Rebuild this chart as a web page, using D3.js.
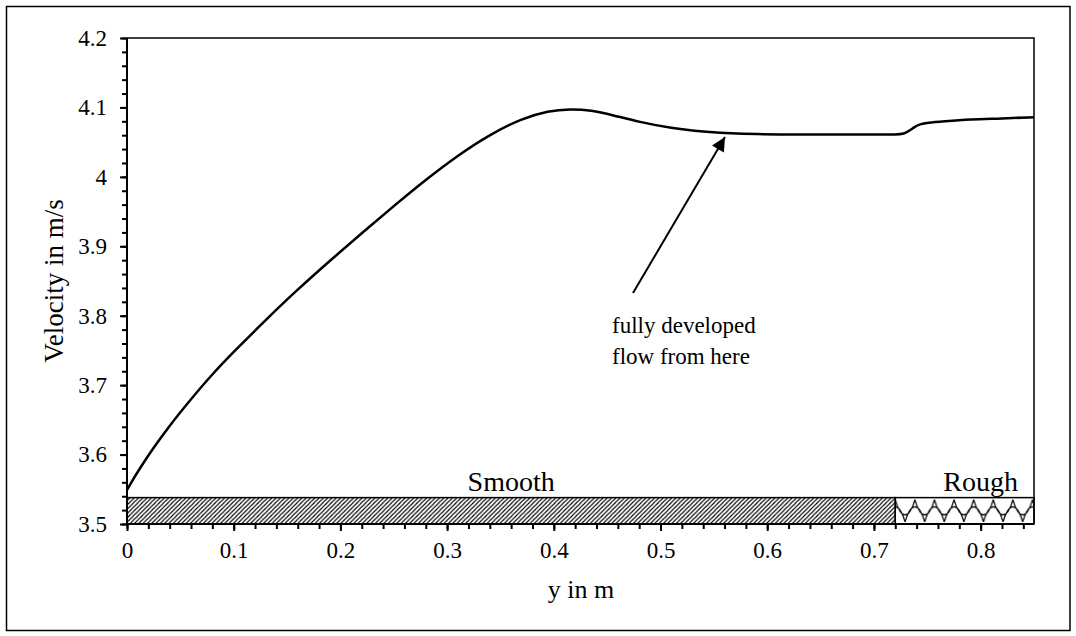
<!DOCTYPE html>
<html>
<head>
<meta charset="utf-8">
<script src="https://cdn.jsdelivr.net/npm/d3@7"></script>
<style>
  html, body { margin: 0; padding: 0; background: #fff; }
  svg { display: block; }
  text { font-family: "Liberation Serif", "Times New Roman", serif; fill: #000; }
</style>
</head>
<body>
<svg id="chart" width="1076" height="636"></svg>
<script>
// ---- data ----
const positions = [0, 0.004, 0.012, 0.024, 0.04, 0.06, 0.08, 0.1, 0.13, 0.16, 0.19, 0.22, 0.25, 0.28, 0.31, 0.34, 0.37, 0.395, 0.415, 0.435, 0.455, 0.48, 0.51, 0.54, 0.57, 0.61, 0.66, 0.7, 0.722, 0.728, 0.733, 0.738, 0.743, 0.75, 0.765, 0.79, 0.82, 0.85];
const velocity  = [3.549, 3.560, 3.580, 3.608, 3.642, 3.680, 3.716, 3.748, 3.794, 3.838, 3.879, 3.919, 3.958, 3.996, 4.031, 4.061, 4.084, 4.095, 4.098, 4.096, 4.089, 4.079, 4.070, 4.065, 4.062, 4.061, 4.061, 4.061, 4.061, 4.062, 4.066, 4.072, 4.076, 4.078, 4.080, 4.083, 4.084, 4.086];
const xTickValues = [0, 0.1, 0.2, 0.3, 0.4, 0.5, 0.6, 0.7, 0.8];
const xTickLabels = ["0", "0.1", "0.2", "0.3", "0.4", "0.5", "0.6", "0.7", "0.8"];
const yTickValues = [3.5, 3.6, 3.7, 3.8, 3.9, 4.0, 4.1, 4.2];
const yTickLabels = ["3.5", "3.6", "3.7", "3.8", "3.9", "4", "4.1", "4.2"];
const surfaceNames = ["Smooth", "Rough"];
const surfaceStart = [0, 0.72];
const surfaceEnd = [0.72, 0.85];
const surfaceTop = 3.538;
const surfaceLabelX = [0.36, 0.8];
const annotationLines = ["fully developed", "flow from here"];
const xTitle = "y in m";
const yTitle = "Velocity in m/s";

// ---- layout ----
const svg = d3.select("#chart");
const L = 127, R = 1034, T = 38, B = 524;
const x = d3.scaleLinear().domain([0, 0.85]).range([L, R]);
const y = d3.scaleLinear().domain([3.5, 4.2]).range([B, T]);

// outer frame
svg.append("rect").attr("x", 6.5).attr("y", 6.5).attr("width", 1063.5).attr("height", 624)
  .attr("fill", "none").attr("stroke", "#000").attr("stroke-width", 1.5);

// patterns
const defs = svg.append("defs");
const hatch = defs.append("pattern").attr("id", "hatch").attr("patternUnits", "userSpaceOnUse")
  .attr("width", 4.3).attr("height", 4.3);
hatch.append("rect").attr("width", 4.3).attr("height", 4.3).attr("fill", "#fff");
hatch.append("path").attr("d", "M-1,1.1 L1.1,-1 M0,4.3 L4.3,0 M3.2,5.4 L5.4,3.2")
  .attr("stroke", "#000").attr("stroke-width", 1.1);

const pw = 19.6, ph = y(3.5) - y(surfaceTop);
const rough = defs.append("pattern").attr("id", "rough").attr("patternUnits", "userSpaceOnUse")
  .attr("x", x(0.72)).attr("y", y(surfaceTop)).attr("width", pw).attr("height", ph);
rough.append("rect").attr("width", pw).attr("height", ph).attr("fill", "#fff");
const up = (o) => `M${o},2 C${o + pw*0.3},${ph*0.85} ${o + pw*0.7},${ph*0.85} ${o + pw},2`;
const dn = (o) => `M${o},${ph-2} C${o + pw*0.3},${ph*0.15} ${o + pw*0.7},${ph*0.15} ${o + pw},${ph-2}`;
rough.append("path")
  .attr("d", up(0) + " " + dn(-pw/2) + " " + dn(pw/2))
  .attr("fill", "none").attr("stroke", "#000").attr("stroke-width", 1.2);

// surface bars
const fills = ["url(#hatch)", "url(#rough)"];
surfaceNames.forEach((name, i) => {
  svg.append("rect")
    .attr("x", x(surfaceStart[i])).attr("y", y(surfaceTop))
    .attr("width", x(surfaceEnd[i]) - x(surfaceStart[i]))
    .attr("height", y(3.5) - y(surfaceTop))
    .attr("fill", fills[i]).attr("stroke", "#000").attr("stroke-width", 1.5);
  svg.append("text").attr("x", x(surfaceLabelX[i])).attr("y", y(surfaceTop) - 7)
    .attr("text-anchor", "middle").attr("font-size", 28).text(name);
});

// plot frame top/right
svg.append("path").attr("d", `M${L},${T} H${R} V${B}`).attr("fill", "none")
  .attr("stroke", "#000").attr("stroke-width", 1.5);

// axes
const xMinor = d3.range(0, 0.851, 0.02);
const yMinor = d3.range(3.5, 4.201, 0.02);
const xAxisMinor = d3.axisBottom(x).tickValues(xMinor).tickSize(5).tickFormat("");
const xAxisMajor = d3.axisBottom(x).tickValues(xTickValues).tickSize(7)
  .tickFormat((d, i) => xTickLabels[i]);
const yAxisMinor = d3.axisLeft(y).tickValues(yMinor).tickSize(5).tickFormat("");
const yAxisMajor = d3.axisLeft(y).tickValues(yTickValues).tickSize(7)
  .tickFormat((d, i) => yTickLabels[i]);

function styleAxis(g) {
  g.select(".domain").remove();
  g.selectAll("line").attr("stroke", "#000").attr("stroke-width", 2);
  g.selectAll("text").attr("font-family", "Liberation Serif").attr("font-size", 23).attr("fill", "#000");
}
svg.append("g").attr("transform", `translate(0,${B})`).call(xAxisMinor).call(styleAxis);
svg.append("g").attr("transform", `translate(0,${B})`).call(xAxisMajor).call(styleAxis)
  .selectAll("text").attr("dy", "1.0em").attr("y", 11);
svg.append("g").attr("transform", `translate(${L},0)`).call(yAxisMinor).call(styleAxis);
svg.append("g").attr("transform", `translate(${L},0)`).call(yAxisMajor).call(styleAxis)
  .selectAll("text").attr("x", -20);

svg.append("line").attr("x1", L).attr("x2", L).attr("y1", T).attr("y2", B + 1)
  .attr("stroke", "#000").attr("stroke-width", 2);
svg.append("line").attr("x1", L - 1).attr("x2", R).attr("y1", B).attr("y2", B)
  .attr("stroke", "#000").attr("stroke-width", 2);

// curve
const line = d3.line().x((d, i) => x(positions[i])).y(d => y(d)).curve(d3.curveBasis);
svg.append("path").datum(velocity).attr("d", line)
  .attr("fill", "none").attr("stroke", "#000").attr("stroke-width", 2.5);

// axis titles
svg.append("text").attr("x", 581).attr("y", 598).attr("text-anchor", "middle")
  .attr("font-size", 26).text(xTitle);
svg.append("text").attr("transform", `translate(63,281) rotate(-90)`)
  .attr("text-anchor", "middle").attr("font-size", 27).text(yTitle);

// annotation arrow
defs.append("marker").attr("id", "arrow").attr("viewBox", "0 0 10 10").attr("refX", 10).attr("refY", 5)
  .attr("markerWidth", 8).attr("markerHeight", 7).attr("markerUnits", "strokeWidth").attr("orient", "auto")
  .append("path").attr("d", "M0,0 L10,5 L0,10 Z").attr("fill", "#000");
svg.append("line").attr("x1", 633).attr("y1", 293).attr("x2", 725).attr("y2", 137)
  .attr("stroke", "#000").attr("stroke-width", 2).attr("marker-end", "url(#arrow)");
annotationLines.forEach((t, i) => {
  svg.append("text").attr("x", 612).attr("y", 333 + i * 31).attr("font-size", 23).text(t);
});
</script>
</body>
</html>
